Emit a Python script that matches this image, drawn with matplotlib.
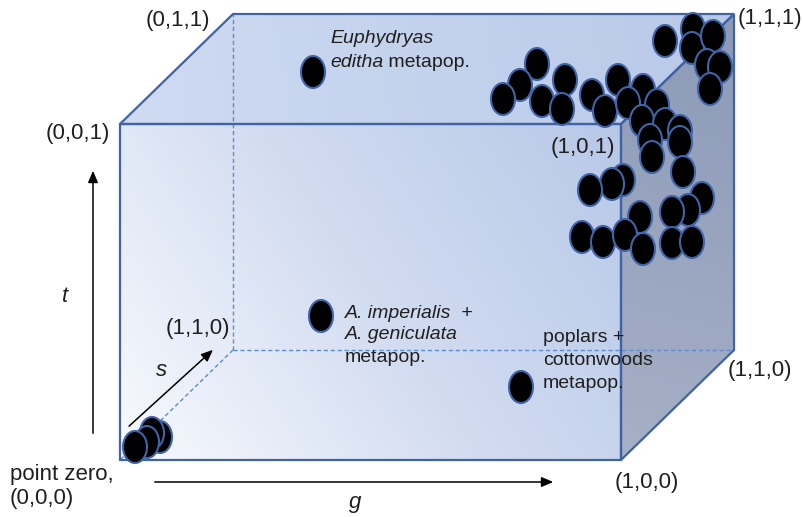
import numpy as np
import matplotlib
matplotlib.use("Agg")
import matplotlib.pyplot as plt
from matplotlib.patches import Polygon, Ellipse
from matplotlib.colors import LinearSegmentedColormap
from matplotlib.transforms import offset_copy

plt.rcParams['font.family'] = ['Liberation Sans', 'DejaVu Sans']

W, H = 804, 517

# cube projection (pixel space): origin, g, s and t directions
origin = (120, 460)
g_vec = (501, 0)
s_vec = (113, -110)
t_vec = (0, -336)

# dot positions (pixel coords)
corner_x = [160, 152, 147, 135]
corner_y = [437, 433, 442, 447]

top_x = [537, 520, 503, 542, 565, 562, 592, 605, 618, 643, 628, 657, 642, 665,
         650, 680, 652, 680, 683, 665, 693, 692, 713, 707, 720, 710]
top_y = [64, 85, 99, 101, 80, 109, 95, 111, 80, 90, 103, 105, 121, 124,
         140, 131, 157, 142, 172, 41, 29, 48, 36, 65, 67, 89]

side_x = [623, 612, 590, 702, 688, 672, 640, 582, 603, 625, 643, 672, 692]
side_y = [180, 184, 190, 198, 210, 212, 217, 237, 242, 235, 249, 243, 242]

single_x = [313, 321, 521]
single_y = [72, 316, 387]

corner_labels = ["(0,1,1)", "(0,0,1)", "(1,1,1)", "(1,0,1)", "(1,1,0)", "(1,0,0)", "(1,1,0)"]


def proj(g, s, t):
    return (origin[0] + g * g_vec[0] + s * s_vec[0] + t * t_vec[0],
            origin[1] + g * g_vec[1] + s * s_vec[1] + t * t_vec[1])


fig = plt.figure(figsize=(W / 100, H / 100), dpi=100)
ax = fig.add_axes([0, 0, 1, 1])
ax.set_xlim(0, W)
ax.set_ylim(H, 0)
ax.set_aspect('auto')
ax.axis('off')

xx, yy = np.meshgrid(np.arange(W) + 0.5, np.arange(H) + 0.5)


def shaded_face(verts, colors, p0, p1):
    # gradient along p0 -> p1, clipped to the face polygon
    d = np.array(p1, float) - np.array(p0, float)
    v = ((xx - p0[0]) * d[0] + (yy - p0[1]) * d[1]) / (d @ d)
    v = np.clip(v, 0, 1)
    cmap = LinearSegmentedColormap.from_list("f", colors)
    poly = Polygon(verts, closed=True, facecolor='none', edgecolor='none')
    ax.add_patch(poly)
    im = ax.imshow(v, cmap=cmap, extent=(0, W, H, 0), vmin=0, vmax=1,
                   interpolation='bilinear', zorder=1)
    im.set_clip_path(poly)


front = [proj(0, 0, 0), proj(1, 0, 0), proj(1, 0, 1), proj(0, 0, 1)]
top = [proj(0, 0, 1), proj(1, 0, 1), proj(1, 1, 1), proj(0, 1, 1)]
right = [proj(1, 0, 0), proj(1, 1, 0), proj(1, 1, 1), proj(1, 0, 1)]

shaded_face(front, ["#f8fafd", "#d2dcf1", "#b7c8e7"], proj(0, 0, 0), proj(1, 0, 1))
shaded_face(top, ["#cfdbf1", "#b8c9e8"], proj(0, 0, 1), proj(1, 1, 1))
shaded_face(right, ["#a6b0c6", "#8c9ab7"], proj(1, 0, 0), proj(1, 1, 1))

# hidden edges
back0 = proj(0, 1, 0)
for end in [proj(0, 0, 0), proj(1, 1, 0), proj(0, 1, 1)]:
    ax.plot([back0[0], end[0]], [back0[1], end[1]], color="#5d8ad4",
            lw=1, ls=(0, (3, 2)), zorder=2)

# visible edges
edge = "#4263a3"
for face in [front, top, right]:
    ax.add_patch(Polygon(face, closed=True, fill=False, edgecolor=edge, lw=1.6, zorder=3))

# axis arrows
arrow = dict(arrowstyle="-|>,head_length=0.7,head_width=0.3", color="black", lw=1.1)
ax.annotate("", xy=(93, 168), xytext=(93, 436), arrowprops=arrow, zorder=4)
ax.annotate("", xy=(556, 482), xytext=(152, 482), arrowprops=arrow, zorder=4)
ax.annotate("", xy=(215, 348), xytext=(127, 428), arrowprops=arrow, zorder=4)

# dots
all_x = corner_x + top_x + side_x + single_x
all_y = corner_y + top_y + side_y + single_y
for x, y in zip(all_x, all_y):
    ax.add_patch(Ellipse((x, y), 24, 32, facecolor="black", edgecolor="#3f64a8",
                         lw=1.5, zorder=5))

fs = 16
tc = "#1f1f1f"
lbl_pos = [(210, 20, 'right'), (110, 133, 'right'), (738, 18, 'left'), (615, 147, 'right'),
           (728, 371, 'left'), (615, 483, 'left'), (230, 329, 'right')]
for txt, (x, y, ha) in zip(corner_labels, lbl_pos):
    ax.text(x, y, txt, ha=ha, va='center', fontsize=fs, color=tc, zorder=6)

ax.text(10, 475, "point zero,", ha='left', va='center', fontsize=fs, color=tc)
ax.text(10, 499, "(0,0,0)", ha='left', va='center', fontsize=fs, color=tc)

ax.text(65, 297, "t", style='italic', ha='center', va='center', fontsize=fs, color=tc)
ax.text(162, 371, "s", style='italic', ha='center', va='center', fontsize=fs, color=tc)
ax.text(355, 503, "g", style='italic', ha='center', va='center', fontsize=fs, color=tc)

fs2 = 14
ax.text(330, 38, "Euphydryas", style='italic', ha='left', va='center', fontsize=fs2, color=tc, zorder=6)
ed = ax.text(330, 62, "editha", style='italic', ha='left', va='center', fontsize=fs2, color=tc, zorder=6)
fig.canvas.draw()
ed_w = ed.get_window_extent().width
ax.text(330, 62, " metapop.", ha='left', va='center', fontsize=fs2, color=tc, zorder=6,
        transform=offset_copy(ax.transData, fig=fig, x=ed_w, y=0, units='dots'))
ax.text(345, 313, "A. imperialis  +", style='italic', ha='left', va='center', fontsize=fs2, color=tc, zorder=6)
ax.text(345, 335, "A. geniculata", style='italic', ha='left', va='center', fontsize=fs2, color=tc, zorder=6)
ax.text(345, 358, "metapop.", ha='left', va='center', fontsize=fs2, color=tc, zorder=6)
ax.text(543, 338, "poplars +", ha='left', va='center', fontsize=fs2, color=tc, zorder=6)
ax.text(543, 361, "cottonwoods", ha='left', va='center', fontsize=fs2, color=tc, zorder=6)
ax.text(543, 384, "metapop.", ha='left', va='center', fontsize=fs2, color=tc, zorder=6)

fig.savefig("out.png", dpi=100)
